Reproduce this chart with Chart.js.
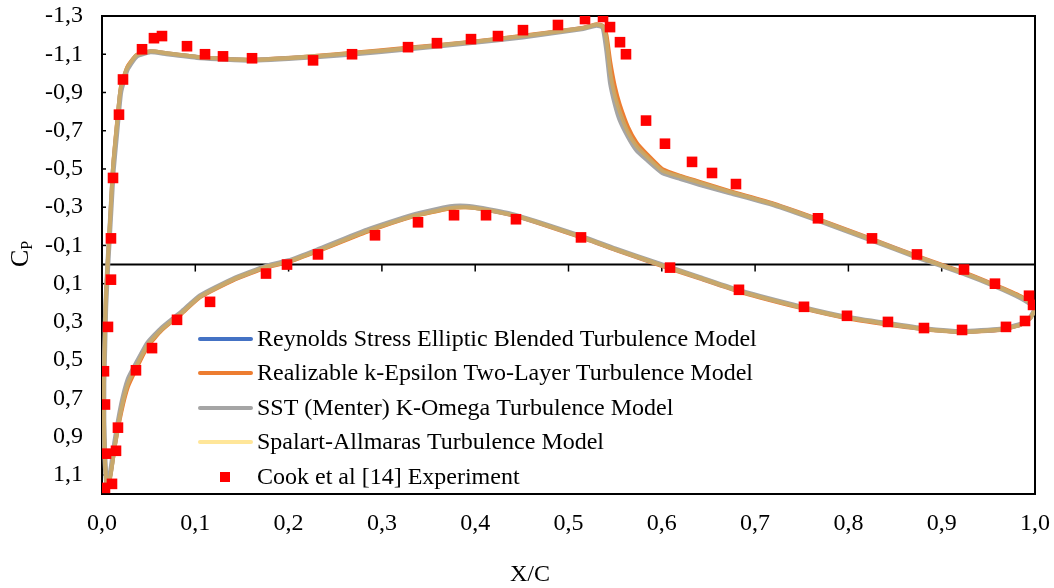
<!DOCTYPE html>
<html>
<head>
<meta charset="utf-8">
<script src="https://cdn.jsdelivr.net/npm/chart.js@4.4.1/dist/chart.umd.min.js"></script>
<style>
  html, body { margin: 0; padding: 0; background: #fff; }
  #wrap { width: 1054px; height: 588px; position: relative; }
</style>
</head>
<body>
<div id="wrap"><canvas id="cp"></canvas></div>
<script>
// Surface stations (x/c): suction side from trailing edge to the stagnation point,
// then pressure side from the leading edge back to the trailing edge.
const upperX = [1.0, 0.985, 0.957, 0.924, 0.874, 0.825, 0.767, 0.72, 0.673, 0.64, 0.62, 0.601, 0.584,
  0.573, 0.564, 0.555, 0.55, 0.545, 0.541, 0.537, 0.53, 0.516, 0.451, 0.394, 0.327, 0.266, 0.23, 0.16,
  0.105, 0.069, 0.052, 0.037, 0.027, 0.020, 0.016, 0.012, 0.010, 0.008, 0.006, 0.004, 0.003, 0.002,
  0.002, 0.003, 0.005];
const lowerX = [0.0086, 0.014, 0.021, 0.028, 0.037, 0.049, 0.064, 0.086, 0.105, 0.14, 0.177, 0.2, 0.23,
  0.284, 0.333, 0.373, 0.39, 0.408, 0.445, 0.512, 0.55, 0.598, 0.641, 0.684, 0.752, 0.798, 0.842, 0.881,
  0.922, 0.9625, 0.984, 0.995, 1.0];

// Reynolds Stress Elliptic Blended
const rsUpper = [0.215, 0.17, 0.11, 0.045, -0.04, -0.13, -0.235, -0.315, -0.38, -0.43, -0.46, -0.49, -0.565,
  -0.62, -0.69, -0.80, -0.88, -1.0, -1.17, -1.245, -1.255, -1.237, -1.195, -1.163, -1.13, -1.105, -1.09, -1.07,
  -1.084, -1.105, -1.115, -1.095, -1.03, -0.92, -0.73, -0.52, -0.35, -0.17, 0.0, 0.2, 0.4, 0.6,
  0.8, 1.0, 1.15];
const rsLower = [1.12, 0.94, 0.75, 0.62, 0.53, 0.42, 0.34, 0.25, 0.168, 0.08, 0.01, -0.016, -0.07,
  -0.175, -0.253, -0.295, -0.30, -0.29, -0.253, -0.147, -0.08, 0.0, 0.07, 0.14, 0.227, 0.277, 0.31, 0.337,
  0.352, 0.34, 0.316, 0.28, 0.236];

// Realizable k-Epsilon Two-Layer
const keUpper = [0.21, 0.165, 0.105, 0.04, -0.045, -0.135, -0.24, -0.32, -0.385, -0.435, -0.465, -0.5, -0.58,
  -0.64, -0.72, -0.84, -0.93, -1.06, -1.2, -1.25, -1.258, -1.24, -1.198, -1.165, -1.135, -1.108, -1.093, -1.072,
  -1.086, -1.107, -1.117, -1.098, -1.035, -0.93, -0.75, -0.54, -0.37, -0.19, -0.02, 0.18, 0.38, 0.58,
  0.8, 1.0, 1.15];
const keLower = [1.12, 0.95, 0.77, 0.64, 0.545, 0.43, 0.345, 0.255, 0.172, 0.085, 0.015, -0.012, -0.066,
  -0.17, -0.25, -0.292, -0.298, -0.288, -0.25, -0.143, -0.075, 0.005, 0.075, 0.145, 0.232, 0.282, 0.315, 0.34,
  0.355, 0.343, 0.318, 0.282, 0.238];

// SST (Menter) k-Omega
const sstUpper = [0.22, 0.175, 0.112, 0.048, -0.038, -0.128, -0.232, -0.312, -0.375, -0.42, -0.45, -0.48, -0.55,
  -0.6, -0.67, -0.76, -0.84, -0.95, -1.12, -1.24, -1.252, -1.235, -1.19, -1.16, -1.127, -1.1, -1.087, -1.068,
  -1.082, -1.103, -1.113, -1.09, -1.02, -0.9, -0.7, -0.49, -0.32, -0.15, 0.02, 0.22, 0.42, 0.62,
  0.82, 1.0, 1.14];
const sstLower = [1.1, 0.92, 0.73, 0.6, 0.515, 0.41, 0.332, 0.245, 0.164, 0.077, 0.007, -0.02, -0.075,
  -0.18, -0.258, -0.302, -0.305, -0.293, -0.255, -0.15, -0.082, -0.002, 0.068, 0.138, 0.225, 0.275, 0.308, 0.335,
  0.35, 0.338, 0.313, 0.277, 0.234];

// Spalart-Allmaras
const saUpper = [0.215, 0.17, 0.11, 0.045, -0.04, -0.13, -0.235, -0.315, -0.38, -0.43, -0.46, -0.49, -0.565,
  -0.62, -0.69, -0.80, -0.88, -1.0, -1.17, -1.245, -1.255, -1.237, -1.195, -1.163, -1.13, -1.105, -1.09, -1.07,
  -1.084, -1.105, -1.115, -1.095, -1.03, -0.92, -0.73, -0.52, -0.35, -0.17, 0.0, 0.2, 0.4, 0.6,
  0.8, 1.0, 1.15];
const saLower = [1.12, 0.94, 0.75, 0.62, 0.53, 0.42, 0.34, 0.25, 0.168, 0.08, 0.01, -0.016, -0.07,
  -0.175, -0.253, -0.295, -0.30, -0.29, -0.253, -0.147, -0.08, 0.0, 0.07, 0.14, 0.227, 0.277, 0.31, 0.337,
  0.352, 0.34, 0.316, 0.28, 0.236];

// Cook et al. measurements
const expUpperX = [0.0096, 0.0096, 0.0118, 0.0182, 0.0225, 0.0429, 0.0557, 0.0643, 0.0911, 0.1104, 0.1297,
  0.1608, 0.2262, 0.268, 0.328, 0.359, 0.3955, 0.4244, 0.4512, 0.4887, 0.5177, 0.537, 0.5445, 0.5552,
  0.5616, 0.5831, 0.6034, 0.6324, 0.6538, 0.6795, 0.7674, 0.8253, 0.8735, 0.9239, 0.9571, 0.9936, 0.9979];
const expUpperCp = [0.079, -0.137, -0.453, -0.784, -0.968, -1.126, -1.184, -1.195, -1.142, -1.1, -1.089,
  -1.079, -1.068, -1.1, -1.137, -1.158, -1.179, -1.195, -1.226, -1.253, -1.284, -1.295, -1.242, -1.163,
  -1.1, -0.753, -0.632, -0.537, -0.479, -0.421, -0.242, -0.137, -0.053, 0.026, 0.1, 0.163, 0.211];
const expLowerX = [0.0032, 0.0107, 0.0043, 0.015, 0.0171, 0.0032, 0.0021, 0.0064, 0.0364, 0.0536, 0.0804,
  0.1158, 0.1758, 0.1983, 0.2315, 0.2926, 0.3387, 0.3773, 0.4116, 0.4437, 0.5134, 0.6088, 0.6827, 0.7524,
  0.7985, 0.8424, 0.881, 0.9218, 0.9689, 0.9893];
const expLowerCp = [1.168, 1.147, 0.989, 0.974, 0.853, 0.732, 0.558, 0.326, 0.553, 0.437, 0.289,
  0.195, 0.047, 0.0, -0.053, -0.153, -0.221, -0.258, -0.258, -0.237, -0.142, 0.016, 0.132, 0.221,
  0.268, 0.3, 0.332, 0.342, 0.326, 0.295];

const yTickValues = [-1.3, -1.1, -0.9, -0.7, -0.5, -0.3, -0.1, 0.1, 0.3, 0.5, 0.7, 0.9, 1.1];

const seriesNames = [
  'Reynolds Stress Elliptic Blended Turbulence Model',
  'Realizable k-Epsilon Two-Layer Turbulence Model',
  'SST (Menter) K-Omega Turbulence Model',
  'Spalart-Allmaras Turbulence Model',
  'Cook et al [14] Experiment'
];
const legendColors = ['#4472C4', '#ED7D31', '#A5A5A5', '#FFE699', '#FF0000'];

const FONT = 'Liberation Serif, Times New Roman, serif';
const FS = 24;

function loop(upper, lower) {
  return upperX.map((x, i) => ({ x, y: upper[i] }))
    .concat(lowerX.map((x, i) => ({ x, y: lower[i] })));
}
function pairs(xs, ys) { return xs.map((x, i) => ({ x, y: ys[i] })); }

const fmt = v => Number(v).toFixed(1).replace('.', ',');

// higher "order" is painted first, so the first model ends up at the bottom
function curve(label, data, color, width, order) {
  return { label, data, showLine: true, borderColor: color, borderWidth: width, order,
    pointRadius: 0, tension: 0.15, fill: false };
}

// Frame, zero line with its tick marks, inner y tick marks, legend and axis titles
const framePlugin = {
  id: 'frame',
  beforeDatasetsDraw(chart) {
    const { ctx, chartArea: a, scales: { x, y } } = chart;
    ctx.save();
    ctx.strokeStyle = '#000';
    const y0 = y.getPixelForValue(0);
    ctx.lineWidth = 2;
    ctx.beginPath(); ctx.moveTo(a.left, y0); ctx.lineTo(a.right, y0); ctx.stroke();
    ctx.lineWidth = 1.5;
    x.ticks.forEach(t => {
      if (t.value <= 0.001 || t.value >= 0.999) return;
      const px = x.getPixelForValue(t.value);
      ctx.beginPath(); ctx.moveTo(px, y0); ctx.lineTo(px, y0 + 7); ctx.stroke();
    });
    y.ticks.forEach(t => {
      const py = y.getPixelForValue(t.value);
      ctx.beginPath(); ctx.moveTo(a.left, py); ctx.lineTo(a.left + 4, py); ctx.stroke();
    });
    ctx.lineWidth = 2;
    ctx.strokeRect(a.left, a.top, a.right - a.left, a.bottom - a.top);
    ctx.restore();
  },
  afterDraw(chart) {
    const { ctx } = chart;
    ctx.save();
    const rowY = [339, 373, 408, 442, 477];
    ctx.font = FS + 'px ' + FONT;
    ctx.textBaseline = 'middle';
    ctx.textAlign = 'left';
    seriesNames.forEach((name, i) => {
      const yy = rowY[i];
      if (i < 4) {
        ctx.strokeStyle = legendColors[i];
        ctx.lineWidth = 4;
        ctx.lineCap = 'round';
        ctx.beginPath(); ctx.moveTo(200, yy); ctx.lineTo(251, yy); ctx.stroke();
      } else {
        ctx.fillStyle = legendColors[i];
        ctx.fillRect(220, yy - 5, 10, 10);
      }
      ctx.fillStyle = '#000';
      ctx.fillText(name, 257, yy + 1);
    });
    ctx.textAlign = 'center';
    ctx.fillText('X/C', 530, 575);
    // C with subscript P, reading upward
    ctx.translate(21, 254);
    ctx.rotate(-Math.PI / 2);
    ctx.textAlign = 'left';
    ctx.font = '26px ' + FONT;
    const wC = ctx.measureText('C').width;
    ctx.font = '16px ' + FONT;
    const wP = ctx.measureText('P').width;
    const start = -(wC + wP) / 2;
    ctx.font = '26px ' + FONT;
    ctx.fillText('C', start, 0);
    ctx.font = '16px ' + FONT;
    ctx.fillText('P', start + wC, 7);
    ctx.restore();
  }
};

new Chart(document.getElementById('cp'), {
  type: 'scatter',
  data: {
    datasets: [
      curve(seriesNames[0], loop(rsUpper, rsLower), '#4472C4', 3, 5),
      curve(seriesNames[1], loop(keUpper, keLower), '#ED7D31', 3.5, 4),
      curve(seriesNames[2], loop(sstUpper, sstLower), '#A5A5A5', 5, 3),
      curve(seriesNames[3], loop(saUpper, saLower), 'rgba(206,168,96,0.85)', 4, 2),
      {
        label: seriesNames[4],
        data: pairs(expUpperX, expUpperCp).concat(pairs(expLowerX, expLowerCp)),
        showLine: false, pointStyle: 'rect', pointRadius: 7.5, pointHoverRadius: 7.5,
        backgroundColor: '#FF0000', borderWidth: 0, order: 1
      }
    ]
  },
  options: {
    responsive: true,
    maintainAspectRatio: false,
    animation: false,
    events: [],
    layout: { padding: { left: 0, top: 16, right: 19, bottom: 0 } },
    plugins: { legend: { display: false }, tooltip: { enabled: false } },
    scales: {
      x: {
        type: 'linear', min: 0, max: 1,
        grid: { display: false, drawTicks: false },
        border: { display: false },
        ticks: { stepSize: 0.1, padding: 15, color: '#000', font: { family: FONT, size: FS },
          maxRotation: 0, autoSkip: false, callback: fmt },
        afterFit(s) { s.height = 94; s.paddingLeft = 0; s.paddingRight = 0; }
      },
      y: {
        type: 'linear', min: -1.3, max: 1.2, reverse: true,
        grid: { display: false, drawTicks: false },
        border: { display: false },
        ticks: { padding: 19, color: '#000', font: { family: FONT, size: FS }, autoSkip: false, callback: fmt },
        afterBuildTicks(s) { s.ticks = yTickValues.map(v => ({ value: v })); },
        afterFit(s) { s.width = 102; s.paddingTop = 0; s.paddingBottom = 0; }
      }
    }
  },
  plugins: [framePlugin]
});
</script>
</body>
</html>
